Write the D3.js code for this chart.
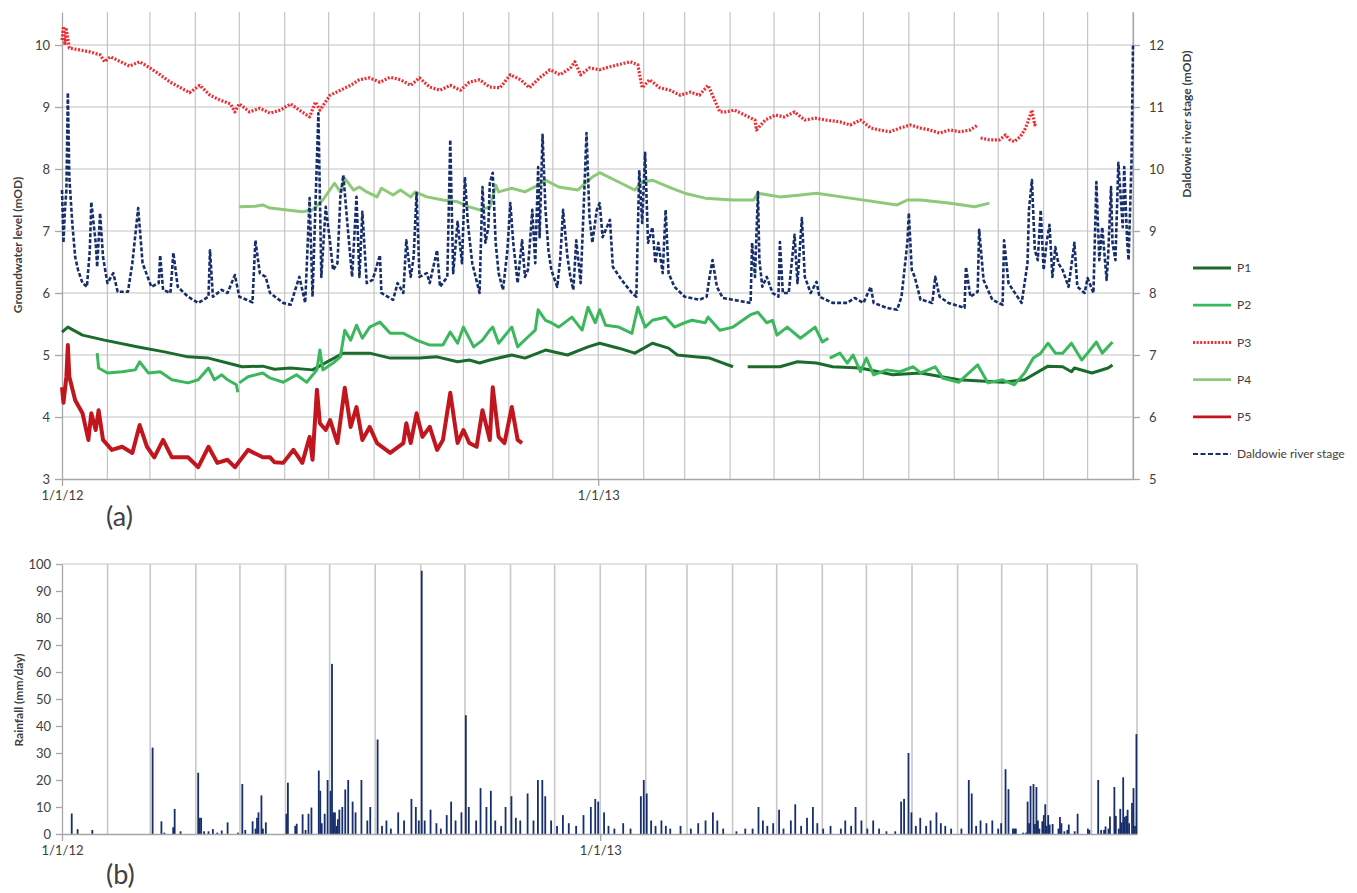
<!DOCTYPE html>
<html><head><meta charset="utf-8">
<script src="https://cdn.jsdelivr.net/npm/d3@7"></script>
<style>body{margin:0;background:#fff} svg{display:block} text{font-family:Lato,"Open Sans",sans-serif;fill:#404040}</style>
</head><body><svg id="c" width="1357" height="893"></svg>
<script>
// ---- DATA (day offset from 1/1/12, value) ----
const seriesNames = ["P1","P2","P3","P4","P5","Daldowie river stage"];
const xTickLabels = ["1/1/12","1/1/13"];
const leftTicks = [3,4,5,6,7,8,9,10];
const rightTicks = [5,6,7,8,9,10,11,12];
const rainTicks = [0,10,20,30,40,50,60,70,80,90,100];

const P1 = [[0,5.37],[4,5.45],[14,5.32],[29,5.24],[52,5.13],[70,5.05],[86,4.97],[100,4.95],[113,4.87],[123,4.81],[137,4.82],[145,4.77],[156,4.79],[171,4.76],[181,4.89],[192,5.03],[210,5.03],[224,4.95],[244,4.95],[256,4.97],[270,4.89],[278,4.92],[285,4.87],[292,4.92],[307,5.0],[316,4.95],[330,5.08],[345,5.0],[359,5.13],[367,5.19],[380,5.11],[391,5.03],[403,5.19],[414,5.11],[420,5.0],[432,4.97],[442,4.95],[458,4.81],[463,null],[468,4.81],[490,4.81],[502,4.89],[515,4.87],[526,4.81],[545,4.79],[567,4.68],[586,4.71],[612,4.6],[642,4.56],[657,4.6],[673,4.82],[683,4.81],[689,4.73],[691,4.79],[703,4.71],[714,4.79],[717,4.84]];

const P2 = [[24,5.03],[25,4.79],[31,4.71],[41,4.73],[50,4.76],[53,4.89],[59,4.71],[67,4.73],[75,4.6],[86,4.55],[93,4.6],[100,4.79],[104,4.6],[109,4.68],[113,4.6],[119,4.52],[120,4.4],[120.5,null],[121,4.55],[127,4.65],[137,4.71],[142,4.63],[151,4.56],[160,4.68],[167,4.56],[174,4.76],[176,5.08],[178,4.76],[185,4.87],[190,4.97],[193,5.4],[197,5.24],[201,5.48],[205,5.27],[210,5.45],[217,5.53],[224,5.35],[233,5.35],[242,5.24],[251,5.16],[260,5.16],[265,5.37],[270,5.19],[274,5.45],[281,5.13],[287,5.24],[292,5.4],[294,5.45],[298,5.19],[307,5.45],[311,5.13],[318,5.29],[323,5.4],[325,5.73],[330,5.56],[334,5.52],[339,5.45],[348,5.61],[355,5.4],[359,5.77],[364,5.52],[367,5.73],[371,5.48],[380,5.45],[389,5.35],[393,5.77],[398,5.45],[403,5.56],[412,5.61],[418,5.45],[425,5.52],[430,5.56],[439,5.52],[441,5.61],[449,5.4],[458,5.45],[470,5.65],[475,5.69],[481,5.52],[485,5.56],[488,5.32],[495,5.45],[504,5.27],[514,5.45],[519,5.21],[523,5.27],[523.5,null],[524,4.95],[531,5.03],[536,4.87],[540,5.0],[545,4.73],[549,4.95],[554,4.68],[563,4.76],[572,4.73],[581,4.81],[586,4.71],[596,4.81],[601,4.63],[612,4.56],[625,4.84],[632,4.55],[642,4.6],[650,4.52],[657,4.71],[663,4.95],[668,5.03],[673,5.19],[678,5.03],[683,5.03],[689,5.19],[696,4.92],[700,5.03],[706,5.21],[710,5.03],[717,5.21]];

const P3 = [[0,10.08],[1,10.3],[2,10.0],[3,10.25],[5,9.95],[12,9.92],[19,9.89],[26,9.84],[29,9.73],[33,9.81],[40,9.73],[46,9.66],[53,9.73],[60,9.63],[67,9.52],[74,9.4],[81,9.31],[87,9.23],[94,9.35],[101,9.19],[108,9.11],[115,9.05],[118,8.92],[121,9.05],[128,8.92],[135,8.98],[142,8.9],[149,8.95],[156,9.05],[162,8.95],[169,8.84],[173,9.08],[176,8.95],[183,9.19],[190,9.27],[197,9.35],[203,9.44],[210,9.47],[217,9.4],[224,9.48],[231,9.44],[238,9.35],[244,9.47],[251,9.32],[258,9.27],[265,9.35],[272,9.27],[278,9.4],[285,9.44],[292,9.32],[299,9.31],[306,9.52],[313,9.44],[319,9.31],[326,9.47],[333,9.6],[340,9.52],[347,9.63],[350,9.73],[354,9.52],[360,9.63],[367,9.6],[374,9.65],[381,9.69],[388,9.73],[393,9.68],[396,9.31],[401,9.44],[408,9.31],[415,9.27],[422,9.19],[429,9.24],[435,9.19],[441,9.35],[446,9.08],[449,8.92],[453,8.92],[459,8.95],[466,8.87],[473,8.79],[474,8.63],[480,8.79],[487,8.87],[493,8.84],[500,8.92],[507,8.79],[514,8.82],[521,8.79],[531,8.76],[538,8.71],[545,8.79],[552,8.66],[558,8.63],[565,8.6],[572,8.66],[579,8.71],[586,8.66],[592,8.63],[599,8.58],[606,8.63],[613,8.6],[620,8.63],[625,8.71],[626,null],[627,8.5],[633,8.47],[640,8.47],[644,8.55],[647,8.47],[650,8.44],[654,8.52],[657,8.63],[659,8.74],[662,8.95],[664,8.71],[665,8.75]];

const P4 = [[121,7.39],[132,7.4],[137,7.42],[142,7.37],[164,7.31],[171,7.34],[178,7.5],[186,7.77],[190,7.63],[193,7.85],[199,7.66],[203,7.71],[208,7.63],[215,7.55],[218,7.69],[226,7.58],[231,7.66],[238,7.55],[241,7.63],[249,7.55],[260,7.5],[270,7.47],[278,7.39],[285,7.34],[292,7.39],[294,7.55],[296,7.74],[298,7.63],[307,7.69],[316,7.63],[325,7.74],[330,7.82],[339,7.71],[352,7.66],[357,7.77],[362,7.87],[367,7.94],[380,7.79],[391,7.66],[396,7.79],[403,7.82],[416,7.69],[425,7.61],[439,7.53],[458,7.5],[472,7.5],[475,7.61],[490,7.55],[504,7.58],[515,7.61],[538,7.53],[570,7.42],[577,7.5],[586,7.5],[605,7.45],[623,7.39],[633,7.45]];

const P5 = [[0,4.48],[1,4.23],[3,4.65],[4,5.16],[5,4.65],[9,4.27],[14,4.06],[18,3.63],[20,4.06],[23,3.79],[25,4.11],[28,3.63],[34,3.47],[41,3.52],[48,3.42],[53,3.87],[58,3.52],[63,3.35],[69,3.63],[75,3.35],[86,3.35],[93,3.19],[100,3.52],[106,3.26],[113,3.31],[118,3.19],[127,3.47],[137,3.35],[142,3.35],[145,3.27],[151,3.26],[158,3.47],[164,3.26],[169,3.68],[171,3.31],[174,4.44],[176,3.9],[180,3.79],[183,3.95],[188,3.58],[193,4.47],[197,3.84],[201,4.16],[205,3.63],[210,3.84],[215,3.58],[224,3.42],[233,3.58],[235,3.9],[238,3.58],[242,4.06],[246,3.68],[251,3.84],[256,3.47],[260,3.63],[265,4.39],[270,3.58],[274,3.79],[278,3.58],[283,3.52],[287,4.11],[292,3.63],[294,4.48],[298,3.68],[302,3.58],[307,4.16],[311,3.63],[314,3.58]];

const river = [[0,9.66],[1,8.81],[2,9.34],[3,9.66],[4,11.23],[5,9.87],[7,9.13],[9,8.58],[11,8.37],[14,8.16],[17,8.1],[19,8.69],[20,9.47],[23,8.81],[24,8.42],[26,9.29],[28,8.58],[31,8.16],[35,8.32],[38,8.02],[45,8.02],[48,8.48],[52,9.37],[55,8.48],[61,8.1],[66,8.16],[67,8.61],[69,8.05],[74,8.0],[76,8.65],[79,8.1],[86,7.94],[93,7.84],[100,7.94],[101,8.69],[103,7.94],[109,8.05],[113,8.0],[118,8.29],[121,7.94],[130,7.85],[132,8.85],[135,8.32],[139,8.26],[142,8.0],[151,7.84],[156,7.81],[162,8.26],[166,7.84],[169,9.53],[171,7.94],[175,10.9],[177,8.26],[180,9.39],[183,8.81],[185,8.37],[188,8.48],[190,9.55],[192,9.9],[195,9.06],[198,8.26],[201,9.55],[203,8.26],[205,9.31],[208,8.16],[212,8.21],[217,8.61],[218,8.0],[226,7.89],[229,8.16],[233,8.0],[235,8.85],[238,8.26],[240,8.58],[242,9.61],[244,8.26],[249,8.32],[251,8.16],[256,8.69],[258,8.1],[263,8.26],[265,10.47],[267,8.32],[270,9.15],[273,8.48],[275,9.87],[277,9.13],[280,8.48],[285,8.0],[287,9.71],[289,8.81],[291,9.06],[292,9.77],[294,9.94],[296,8.81],[298,8.32],[301,8.05],[304,8.69],[306,9.45],[308,8.81],[311,8.16],[314,8.85],[316,8.26],[318,8.37],[321,9.34],[323,8.48],[325,10.03],[326,8.9],[328,10.55],[330,9.34],[332,8.69],[334,8.37],[338,8.1],[340,8.53],[342,9.34],[345,8.58],[347,8.26],[349,8.05],[351,8.85],[354,8.16],[356,9.34],[358,10.58],[360,9.23],[362,8.81],[365,9.34],[367,9.45],[369,8.9],[374,9.18],[376,8.42],[382,8.21],[389,8.0],[392,7.94],[394,9.98],[396,9.13],[398,10.26],[400,8.81],[403,9.06],[405,8.48],[407,8.81],[410,8.32],[412,9.34],[414,8.32],[418,8.1],[425,7.94],[435,7.89],[440,7.94],[442,8.26],[444,8.53],[447,8.1],[451,7.92],[458,7.89],[470,7.84],[471,8.81],[473,8.26],[475,9.63],[476,8.53],[478,8.1],[481,8.26],[485,8.0],[489,7.94],[490,8.82],[492,8.0],[496,8.0],[500,8.94],[502,8.16],[505,9.21],[507,8.26],[511,8.0],[515,8.18],[517,7.94],[526,7.84],[536,7.84],[541,7.92],[547,7.84],[552,8.1],[554,7.84],[563,7.76],[570,7.73],[573,7.94],[577,8.81],[578,9.29],[580,8.37],[582,8.26],[586,7.89],[587,7.89],[594,7.84],[596,8.26],[599,7.94],[605,7.84],[616,7.76],[617,8.42],[620,7.94],[625,8.02],[626,9.02],[629,8.21],[631,8.1],[635,7.89],[642,7.81],[643,8.85],[646,8.16],[649,8.05],[655,7.84],[659,8.48],[660,9.34],[662,9.82],[664,8.69],[666,8.53],[668,9.34],[670,8.37],[672,8.81],[674,9.1],[676,8.26],[678,8.74],[680,8.48],[683,8.37],[687,8.1],[691,8.81],[693,8.1],[698,8.0],[700,8.24],[704,8.0],[706,9.79],[708,8.53],[710,9.06],[713,8.21],[714,8.58],[716,9.71],[717,8.81],[719,8.53],[721,10.1],[724,9.06],[725,10.03],[727,8.85],[728,8.53],[730,10.15],[731,12.0]];

const rainDays = [6,10,20,61,67,69,75,76,80,92,93,94,96,99,102,105,108,112,119,122,124,129,131,132,133,135,136,138,152,153,158,159,163,165,167,169,174,175,176,178,180,182,183,184,185,186,187,188,190,192,194,197,199,203,207,209,214,217,220,223,228,232,237,240,242,244,246,250,254,257,261,264,267,271,274,276,281,284,288,291,294,298,301,305,308,311,316,320,323,326,328,332,336,340,344,349,354,359,362,364,368,371,375,381,386,393,395,397,400,403,407,410,413,420,427,432,437,442,445,449,458,464,469,473,476,479,483,487,490,495,498,502,506,510,513,517,522,529,532,536,539,543,547,551,555,560,566,570,572,575,577,580,583,587,590,594,597,600,604,611,616,618,621,624,628,632,636,638,641,643,646,647,648,653,655,656,657,658,660,661,662,663,664,666,667,668,669,670,671,673,677,678,679,681,683,684,688,690,697,698,704,706,708,709,711,712,715,716,718,719,720,721,722,723,724,725,727,728,729,730];
const rainMm = [7.6,1.8,1.5,32,4.7,0.5,2.5,9.3,1,22.7,6,6,1,1,1.8,0.5,1.3,4.3,0.5,18.5,1.5,4.7,2,6,8,14.3,2,4.3,7.5,19,3,3.8,7.3,1.5,7.5,9.8,23.5,16,4,7.5,20,16,63,8,8,3,5.5,9,10,16.5,20,12,8,20,5,10,35,3,5,2,8,5,13,10,5,97.5,5,9,4,2,7,12,5,8,44,10,5,17,10,16,5,3,10,14,6,5,15,5,20,20,14,5,3,7,4,3,7,10,13,12,8,3,2,4,2,14,20,15,5,3,5,3,2,3,2,4,5,8,5,2,1,2,2,10,5,3,4,9,2,5,11,3,6,10,4,2,3,2,5,3,10,5,2,5,2,1,1,12,13,30,8,3,6,3,5,8,4,3,2,2,20,15,3,5,4,5,2,4,24,16.6,2,2,2,0.5,0.5,12,4,17.8,18.5,3.7,17.4,5,2,4.7,7,11,3,7,3.5,3.7,2,6.3,4,1,1.5,3.5,1,7.5,2,1.5,20,1.5,1.5,2.8,2,6.5,17.4,6.7,2,9.3,4.3,21,6.3,6.7,9,4,11.5,17,3,37];

// ---- DRAWING ----
const svg = d3.select('#c');
const T0 = Date.UTC(2012,0,1);
const toDate = d => new Date(T0 + d*864e5);
const fmt = d => `${d.getUTCMonth()+1}/${d.getUTCDate()}/${String(d.getUTCFullYear()).slice(2)}`;
const GRID = '#c4c4c4', AXIS = '#a6a6a6';

// top panel scales
const xT = d3.scaleUtc().domain([toDate(0), toDate(731)]).range([62, 1133]);
const yL = d3.scaleLinear().domain([3, 10.532]).range([479, 12]);
const yR = d3.scaleLinear().domain([5, 12.532]).range([479, 12]);
const months = d3.utcMonth.range(toDate(0), toDate(732));

const gT = svg.append('g');
gT.selectAll('.hg').data(leftTicks.slice(1)).join('line')
  .attr('x1',62).attr('x2',1133).attr('y1',d=>yL(d)).attr('y2',d=>yL(d))
  .attr('stroke',GRID).attr('stroke-width',1.2);
gT.selectAll('.vg').data(months.slice(1)).join('line')
  .attr('x1',d=>xT(d)).attr('x2',d=>xT(d)).attr('y1',12).attr('y2',479)
  .attr('stroke',GRID).attr('stroke-width',1.2);

function styleAxis(g){
  g.select('.domain').attr('stroke',AXIS).attr('stroke-width',1.3);
  g.selectAll('.tick line').attr('stroke',AXIS).attr('stroke-width',1.3);
  g.selectAll('.tick text').attr('font-size',13).attr('fill','#404040');
}
const axL = svg.append('g').attr('transform','translate(62,0)')
  .call(d3.axisLeft(yL).tickValues(leftTicks).tickSize(7).tickSizeOuter(0).tickPadding(5));
styleAxis(axL);
const axR = svg.append('g').attr('transform','translate(1133,0)')
  .call(d3.axisRight(yR).tickValues(rightTicks).tickSize(7).tickSizeOuter(0).tickPadding(9));
styleAxis(axR);
const axB = svg.append('g').attr('transform','translate(0,479)')
  .call(d3.axisBottom(xT).tickValues(xTickLabels.map((s,i)=>toDate(i*366))).tickFormat(fmt).tickSize(7).tickSizeOuter(0).tickPadding(5));
styleAxis(axB);

// series
const colors = {P1:'#1b6b2d',P2:'#3bb75c',P3:'#ee2d33',P4:'#8dc978',P5:'#c2161f',R:'#172e6c'};
const lineL = d3.line().defined(d=>d[1]!==null).x(d=>xT(toDate(d[0]))).y(d=>yL(d[1]));
const lineR = d3.line().defined(d=>d[1]!==null).x(d=>xT(toDate(d[0]))).y(d=>yR(d[1]));
const draw = (data, gen, col, w, dash) => svg.append('path').datum(data).attr('d',gen)
  .attr('fill','none').attr('stroke',col).attr('stroke-width',w)
  .attr('stroke-linejoin','round').attr('stroke-dasharray',dash||null);
draw(P4, lineL, colors.P4, 3);
draw(river, lineR, colors.R, 2.6, '4,2');
draw(P3, lineL, colors.P3, 3.2, '2,1.6');
draw(P1, lineL, colors.P1, 3);
draw(P2, lineL, colors.P2, 3);
draw(P5, lineL, colors.P5, 4);

// axis titles
svg.append('text').attr('transform','translate(22,245) rotate(-90)').attr('text-anchor','middle')
  .attr('font-size',12).attr('font-weight','bold').attr('fill','#000').text('Groundwater level (mOD)');
svg.append('text').attr('transform','translate(1191,124) rotate(-90)').attr('text-anchor','middle')
  .attr('font-size',12).attr('font-weight','bold').attr('fill','#000').text('Daldowie river stage (mOD)');

// legend
const legItems = [
  {n:seriesNames[0],c:colors.P1,d:null,w:2.8},
  {n:seriesNames[1],c:colors.P2,d:null,w:2.8},
  {n:seriesNames[2],c:colors.P3,d:'2,1.6',w:3},
  {n:seriesNames[3],c:colors.P4,d:null,w:2.8},
  {n:seriesNames[4],c:colors.P5,d:null,w:2.8},
  {n:seriesNames[5],c:colors.R,d:'5,2.5',w:2.2}
];
const lg = svg.append('g').selectAll('g').data(legItems).join('g')
  .attr('transform',(d,i)=>`translate(1193,${268+i*37.2})`);
lg.append('line').attr('x1',0).attr('x2',38).attr('stroke',d=>d.c).attr('stroke-width',d=>d.w).attr('stroke-dasharray',d=>d.d);
lg.append('text').attr('x',44).attr('dy','0.35em').attr('font-size',12).attr('fill','#000').text(d=>d.n);

// panel labels
svg.append('text').attr('x',106).attr('y',526).attr('font-size',27).attr('font-family','"Liberation Sans",Arial,sans-serif').attr('fill','#000').text('(a)');
svg.append('text').attr('x',106).attr('y',884).attr('font-size',27).attr('font-family','"Liberation Sans",Arial,sans-serif').attr('fill','#000').text('(b)');

// bottom panel
const xB = d3.scaleUtc().domain([toDate(0), toDate(731)]).range([62, 1137]);
const yB = d3.scaleLinear().domain([0,100]).range([834,564]);
const gB = svg.append('g');
gB.selectAll('line').data(months.slice(1)).join('line')
  .attr('x1',d=>xB(d)).attr('x2',d=>xB(d)).attr('y1',564).attr('y2',834)
  .attr('stroke','#c8c8c8').attr('stroke-width',1.6);
gB.append('line').attr('x1',62).attr('x2',1137).attr('y1',564).attr('y2',564).attr('stroke','#d9d9d9').attr('stroke-width',1.6);

const rain = rainDays.map((d,i)=>({d, v:rainMm[i]}));
svg.append('g').selectAll('rect').data(rain).join('rect')
  .attr('x',r=>xB(toDate(r.d)))
  .attr('width',r=>Math.max(1.8, xB(toDate(r.d+1))-xB(toDate(r.d))+0.3))
  .attr('y',r=>yB(r.v)).attr('height',r=>yB(0)-yB(r.v))
  .attr('fill',colors.R);

const bL = svg.append('g').attr('transform','translate(62,0)')
  .call(d3.axisLeft(yB).tickValues(rainTicks).tickSize(6).tickSizeOuter(0).tickPadding(5));
styleAxis(bL);
const bB = svg.append('g').attr('transform','translate(0,834)')
  .call(d3.axisBottom(xB).tickValues(xTickLabels.map((s,i)=>toDate(i*366))).tickFormat(fmt).tickSize(7).tickSizeOuter(0).tickPadding(5));
styleAxis(bB);
svg.append('text').attr('transform','translate(23,700) rotate(-90)').attr('text-anchor','middle')
  .attr('font-size',12).attr('font-weight','bold').attr('fill','#000').text('Rainfall (mm/day)');
</script></body></html>
